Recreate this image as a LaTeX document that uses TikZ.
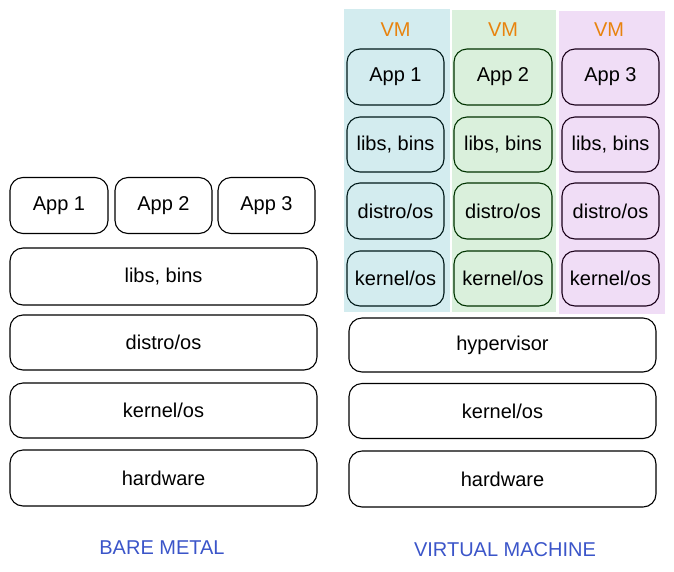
\documentclass[tikz,border=0pt]{standalone}
\usepackage{fontspec}
\setmainfont{Liberation Sans}
\usetikzlibrary{positioning}

\definecolor{vmazul}{HTML}{D3ECEF}
\definecolor{vmverde}{HTML}{DAF0DC}
\definecolor{vmroxo}{HTML}{F0DDF6}
\definecolor{vmlaranja}{HTML}{E8830E}
\definecolor{titulo}{HTML}{3B55C9}

\begin{document}
\begin{tikzpicture}[
    x=1pt,
    y=-1pt,
    font=\fontsize{20}{23}\selectfont,
    caixa/.style={draw, rounded corners=13pt, line width=1.1pt, inner sep=0pt, minimum height=55pt, fill=white},
    larga/.style={caixa, minimum width=307pt},
    app/.style={caixa, minimum width=97pt, minimum height=56pt},
    vmtit/.style={text=vmlaranja},
    rotulo/.style={text=titulo}
  ]
  \useasboundingbox (0,0) rectangle (674,571);

  % --- BARE METAL ---
  \node[app, minimum width=98pt] (app1) at (59,205.5) {App 1};
  \node[app] (app2) at (163.5,205.5) {App 2};
  \node[app] (app3) at (266.5,205.5) {App 3};
  \node[larga, minimum height=57pt] (libs) at (163.5,276.5) {libs, bins};
  \node[larga] (distro) at (163.5,342.5) {distro/os};
  \node[larga] (kernel) at (163.5,410.5) {kernel/os};
  \node[larga, minimum height=56pt] (hw) at (163.5,478) {hardware};
  \node[rotulo] (bare) at (162,548) {BARE METAL};

  % --- VIRTUAL MACHINE: fundo das VMs ---
  \fill[vmazul] (344,9) rectangle (450,312);
  \fill[vmverde] (452,10) rectangle (556,312);
  \fill[vmroxo] (559,11) rectangle (665,314);

  % VM 1
  \node[vmtit] (vm1) at (395.5,30) {VM};
  \node[app, fill=vmazul, draw=black!80!teal] (vapp1) at (395.5,77) {App 1};
  \node[app, fill=vmazul, draw=black!80!teal, minimum height=55pt] (vlibs1) at (395.5,144.5) {libs, bins};
  \node[app, fill=vmazul, draw=black!80!teal] (vdistro1) at (395.5,211) {distro/os};
  \node[app, fill=vmazul, draw=black!80!teal, minimum height=55pt] (vkernel1) at (395.5,278.5) {kernel/os};

  % VM 2
  \node[vmtit] (vm2) at (503,30) {VM};
  \node[app, fill=vmverde, draw=black!80!green, minimum width=98pt] (vapp2) at (503,77) {App 2};
  \node[app, fill=vmverde, draw=black!80!green, minimum width=98pt, minimum height=55pt] (vlibs2) at (503,144.5) {libs, bins};
  \node[app, fill=vmverde, draw=black!80!green, minimum width=98pt] (vdistro2) at (503,211) {distro/os};
  \node[app, fill=vmverde, draw=black!80!green, minimum width=98pt, minimum height=55pt] (vkernel2) at (503,278.5) {kernel/os};

  % VM 3
  \node[vmtit] (vm3) at (609,30) {VM};
  \node[app, fill=vmroxo, draw=black!80!violet] (vapp3) at (610.5,77) {App 3};
  \node[app, fill=vmroxo, draw=black!80!violet, minimum height=55pt] (vlibs3) at (610.5,144.5) {libs, bins};
  \node[app, fill=vmroxo, draw=black!80!violet] (vdistro3) at (610.5,211) {distro/os};
  \node[app, fill=vmroxo, draw=black!80!violet, minimum height=55pt] (vkernel3) at (610.5,278.5) {kernel/os};

  % --- camadas de baixo ---
  \node[larga, minimum height=54pt] (hv) at (502.5,345) {hypervisor};
  \node[larga] (vkernel) at (502.5,411) {kernel/os};
  \node[larga, minimum height=56pt] (vhw) at (502.5,479) {hardware};
  \node[rotulo] (virt) at (505,550) {VIRTUAL MACHINE};

\end{tikzpicture}
\end{document}
